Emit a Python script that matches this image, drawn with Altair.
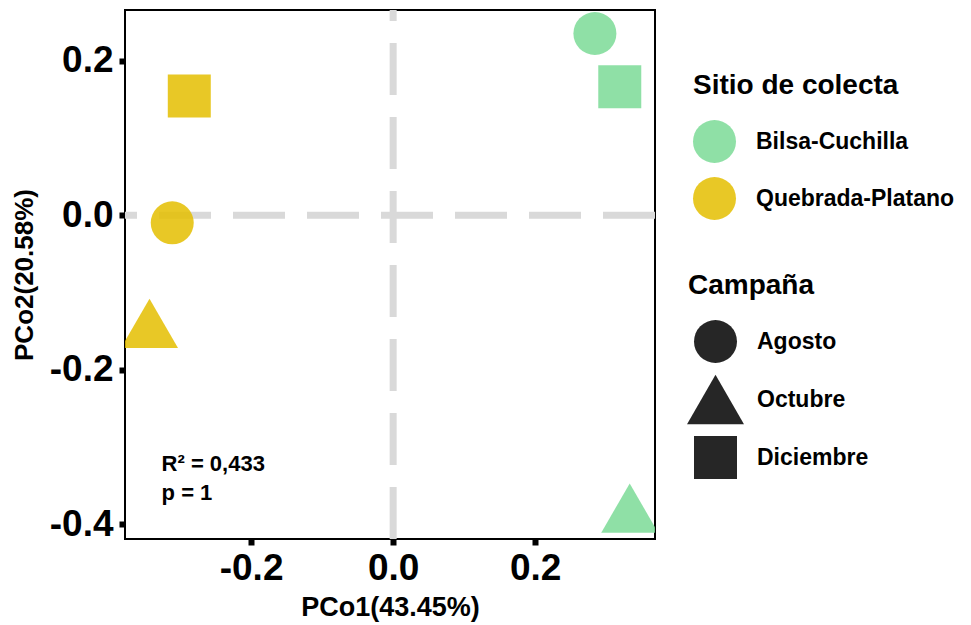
import altair as alt
import pandas as pd

# PCoA scores per sampling site and campaign
sites = ["Bilsa-Cuchilla", "Bilsa-Cuchilla", "Bilsa-Cuchilla",
         "Quebrada-Platano", "Quebrada-Platano", "Quebrada-Platano"]
campaigns = ["Agosto", "Octubre", "Diciembre",
             "Agosto", "Octubre", "Diciembre"]
pco1 = [0.284, 0.333, 0.319, -0.311, -0.343, -0.287]
pco2 = [0.235, -0.379, 0.166, -0.010, -0.140, 0.154]

site_order = ["Bilsa-Cuchilla", "Quebrada-Platano"]
site_colors = ["#7BDA96", "#E4BE00"]
campaign_order = ["Agosto", "Octubre", "Diciembre"]

x_ticks = [-0.2, 0.0, 0.2]
y_ticks = [-0.4, -0.2, 0.0, 0.2]
x_domain = [-0.3775, 0.3686]
y_domain = [-0.419, 0.2654]

# PERMANOVA annotation
stat_lines = ["R² = 0,433", "p = 1"]
stat_x = [-0.326, -0.326]
stat_y = [-0.331, -0.369]

FONT = "Liberation Sans"
W, H = 530, 529
POINT_SIZE = 1849
# solid upward triangle, wider than the circle and square
TRIANGLE = "M0,-1.147L1.325,1.147L-1.325,1.147Z"
campaign_shapes = ["circle", TRIANGLE, "square"]

scores = pd.DataFrame({"site": sites, "campaign": campaigns,
                       "PCo1": pco1, "PCo2": pco2})
stats = pd.DataFrame({"label": stat_lines, "x": stat_x, "y": stat_y})
origin = pd.DataFrame({"zero": [0.0]})

x_scale = alt.Scale(domain=x_domain, nice=False, zero=False)
y_scale = alt.Scale(domain=y_domain, nice=False, zero=False)
label_expr = ("datum.value < 0 ? '-' + format(-datum.value, '.1f')"
              " : format(datum.value, '.1f')")

axis_common = dict(labelFont=FONT, labelFontSize=37, labelFontWeight="bold",
                   labelColor="black", titleFont=FONT, titleFontWeight="bold",
                   titleColor="black", tickColor="black", tickWidth=6,
                   tickSize=6, domain=False, grid=False, labelExpr=label_expr)

x_axis = alt.Axis(values=x_ticks, title="PCo1(43.45%)", titleFontSize=27,
                  labelPadding=5, titlePadding=8, **axis_common)
y_axis = alt.Axis(values=y_ticks, title="PCo2(20.58%)", titleFontSize=26,
                  labelPadding=6, titlePadding=12, **axis_common)

dash = dict(color="#D9D9D9", strokeWidth=7, strokeDash=[52, 22])

hline = alt.Chart(origin).mark_rule(**dash).encode(
    y=alt.Y("zero:Q", scale=y_scale, axis=y_axis)
)
vline = alt.Chart(origin).mark_rule(**dash).encode(
    x=alt.X("zero:Q", scale=x_scale, axis=x_axis),
    y=alt.value(H), y2=alt.value(0)
)

legend_common = dict(orient="none", padding=0, symbolSize=POINT_SIZE,
                     symbolStrokeWidth=0, titleFont=FONT, titleFontSize=28,
                     titleFontWeight="bold", titleColor="black",
                     labelFont=FONT, labelFontSize=23, labelFontWeight="bold",
                     labelColor="black", labelOffset=20,
                     titleLimit=400, labelLimit=400, titlePadding=20)

points = alt.Chart(scores).mark_point(
    filled=True, size=POINT_SIZE, opacity=0.85, strokeWidth=0, clip=True
).encode(
    x=alt.X("PCo1:Q", scale=x_scale, axis=x_axis),
    y=alt.Y("PCo2:Q", scale=y_scale, axis=y_axis),
    color=alt.Color("site:N",
                    scale=alt.Scale(domain=site_order, range=site_colors),
                    legend=alt.Legend(title="Sitio de colecta", legendX=568,
                                      legendY=62, symbolType="circle",
                                      rowPadding=14, **legend_common)),
    shape=alt.Shape("campaign:N",
                    scale=alt.Scale(domain=campaign_order,
                                    range=campaign_shapes),
                    legend=alt.Legend(title="Campaña", legendX=563,
                                      legendY=262, symbolFillColor="black",
                                      symbolOffset=6, rowPadding=11,
                                      **legend_common)),
)

annot = alt.Chart(stats).mark_text(
    align="left", baseline="alphabetic", font=FONT, fontSize=22,
    fontWeight="bold", color="black"
).encode(
    x=alt.X("x:Q", scale=x_scale, axis=x_axis),
    y=alt.Y("y:Q", scale=y_scale, axis=y_axis),
    text="label:N",
)

chart = alt.layer(hline, vline, points, annot).properties(
    width=W, height=H,
    padding={"left": 125, "top": 10, "right": 316, "bottom": 86},
    autosize=alt.AutoSizeParams(type="none"),
).configure(font=FONT).configure_view(stroke="black", strokeWidth=2)

chart.save("out.html", embed_options={"renderer": "svg", "actions": False})
